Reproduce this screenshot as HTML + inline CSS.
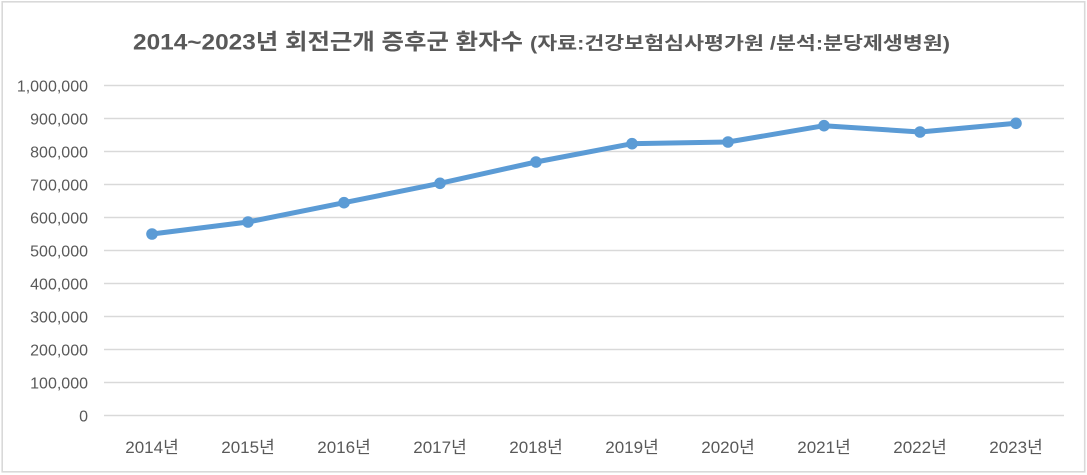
<!DOCTYPE html>
<html><head><meta charset="utf-8"><style>
html,body{margin:0;padding:0;background:#fff;}
svg{display:block;}
text{font-family:"Liberation Sans","Noto Sans CJK KR",sans-serif;fill:#595959;}
</style></head><body>
<svg width="1087" height="475" viewBox="0 0 1087 475" xmlns="http://www.w3.org/2000/svg">
<rect x="0" y="0" width="1087" height="475" fill="#fff"/>
<rect x="2.2" y="1.8" width="1082.5" height="470" fill="#fff" stroke="#d9d9d9" stroke-width="1.6"/>
<text x="133" y="49.5" font-size="22" font-weight="bold" textLength="390" lengthAdjust="spacingAndGlyphs">2014~2023년 회전근개 증후군 환자수</text>
<text x="530" y="49.5" font-size="18" font-weight="bold" textLength="420" lengthAdjust="spacingAndGlyphs">(자료:건강보험심사평가원 /분석:분당제생병원)</text>
<g stroke="#d9d9d9" stroke-width="1.4">
<line x1="104" x2="1064" y1="415.5" y2="415.5"/>
<line x1="104" x2="1064" y1="382.5" y2="382.5"/>
<line x1="104" x2="1064" y1="349.5" y2="349.5"/>
<line x1="104" x2="1064" y1="316.5" y2="316.5"/>
<line x1="104" x2="1064" y1="283.5" y2="283.5"/>
<line x1="104" x2="1064" y1="250.5" y2="250.5"/>
<line x1="104" x2="1064" y1="217.5" y2="217.5"/>
<line x1="104" x2="1064" y1="184.5" y2="184.5"/>
<line x1="104" x2="1064" y1="151.5" y2="151.5"/>
<line x1="104" x2="1064" y1="118.5" y2="118.5"/>
<line x1="104" x2="1064" y1="85.5" y2="85.5"/>
</g>
<g font-size="16" text-anchor="end">
<text x="88" y="421.5">0</text>
<text x="88" y="388.5">100,000</text>
<text x="88" y="355.5">200,000</text>
<text x="88" y="322.5">300,000</text>
<text x="88" y="289.5">400,000</text>
<text x="88" y="256.5">500,000</text>
<text x="88" y="223.5">600,000</text>
<text x="88" y="190.5">700,000</text>
<text x="88" y="157.5">800,000</text>
<text x="88" y="124.5">900,000</text>
<text x="88" y="91.5">1,000,000</text>
</g>
<g font-size="17" text-anchor="middle">
<text x="152" y="453">2014년</text>
<text x="248" y="453">2015년</text>
<text x="344" y="453">2016년</text>
<text x="440" y="453">2017년</text>
<text x="536" y="453">2018년</text>
<text x="632" y="453">2019년</text>
<text x="728" y="453">2020년</text>
<text x="824" y="453">2021년</text>
<text x="920" y="453">2022년</text>
<text x="1016" y="453">2023년</text>
</g>
<polyline fill="none" stroke="#5b9bd5" stroke-width="5" stroke-linejoin="round" stroke-linecap="round"
points="152,234 248,222 344,202.7 440,183.3 536,162 632,143.7 728,142 824,125.7 920,132 1016,123.3"/>
<g fill="#5b9bd5">
<circle cx="152" cy="234" r="5.8"/>
<circle cx="248" cy="222" r="5.8"/>
<circle cx="344" cy="202.7" r="5.8"/>
<circle cx="440" cy="183.3" r="5.8"/>
<circle cx="536" cy="162" r="5.8"/>
<circle cx="632" cy="143.7" r="5.8"/>
<circle cx="728" cy="142" r="5.8"/>
<circle cx="824" cy="125.7" r="5.8"/>
<circle cx="920" cy="132" r="5.8"/>
<circle cx="1016" cy="123.3" r="5.8"/>
</g>
</svg>
</body></html>
